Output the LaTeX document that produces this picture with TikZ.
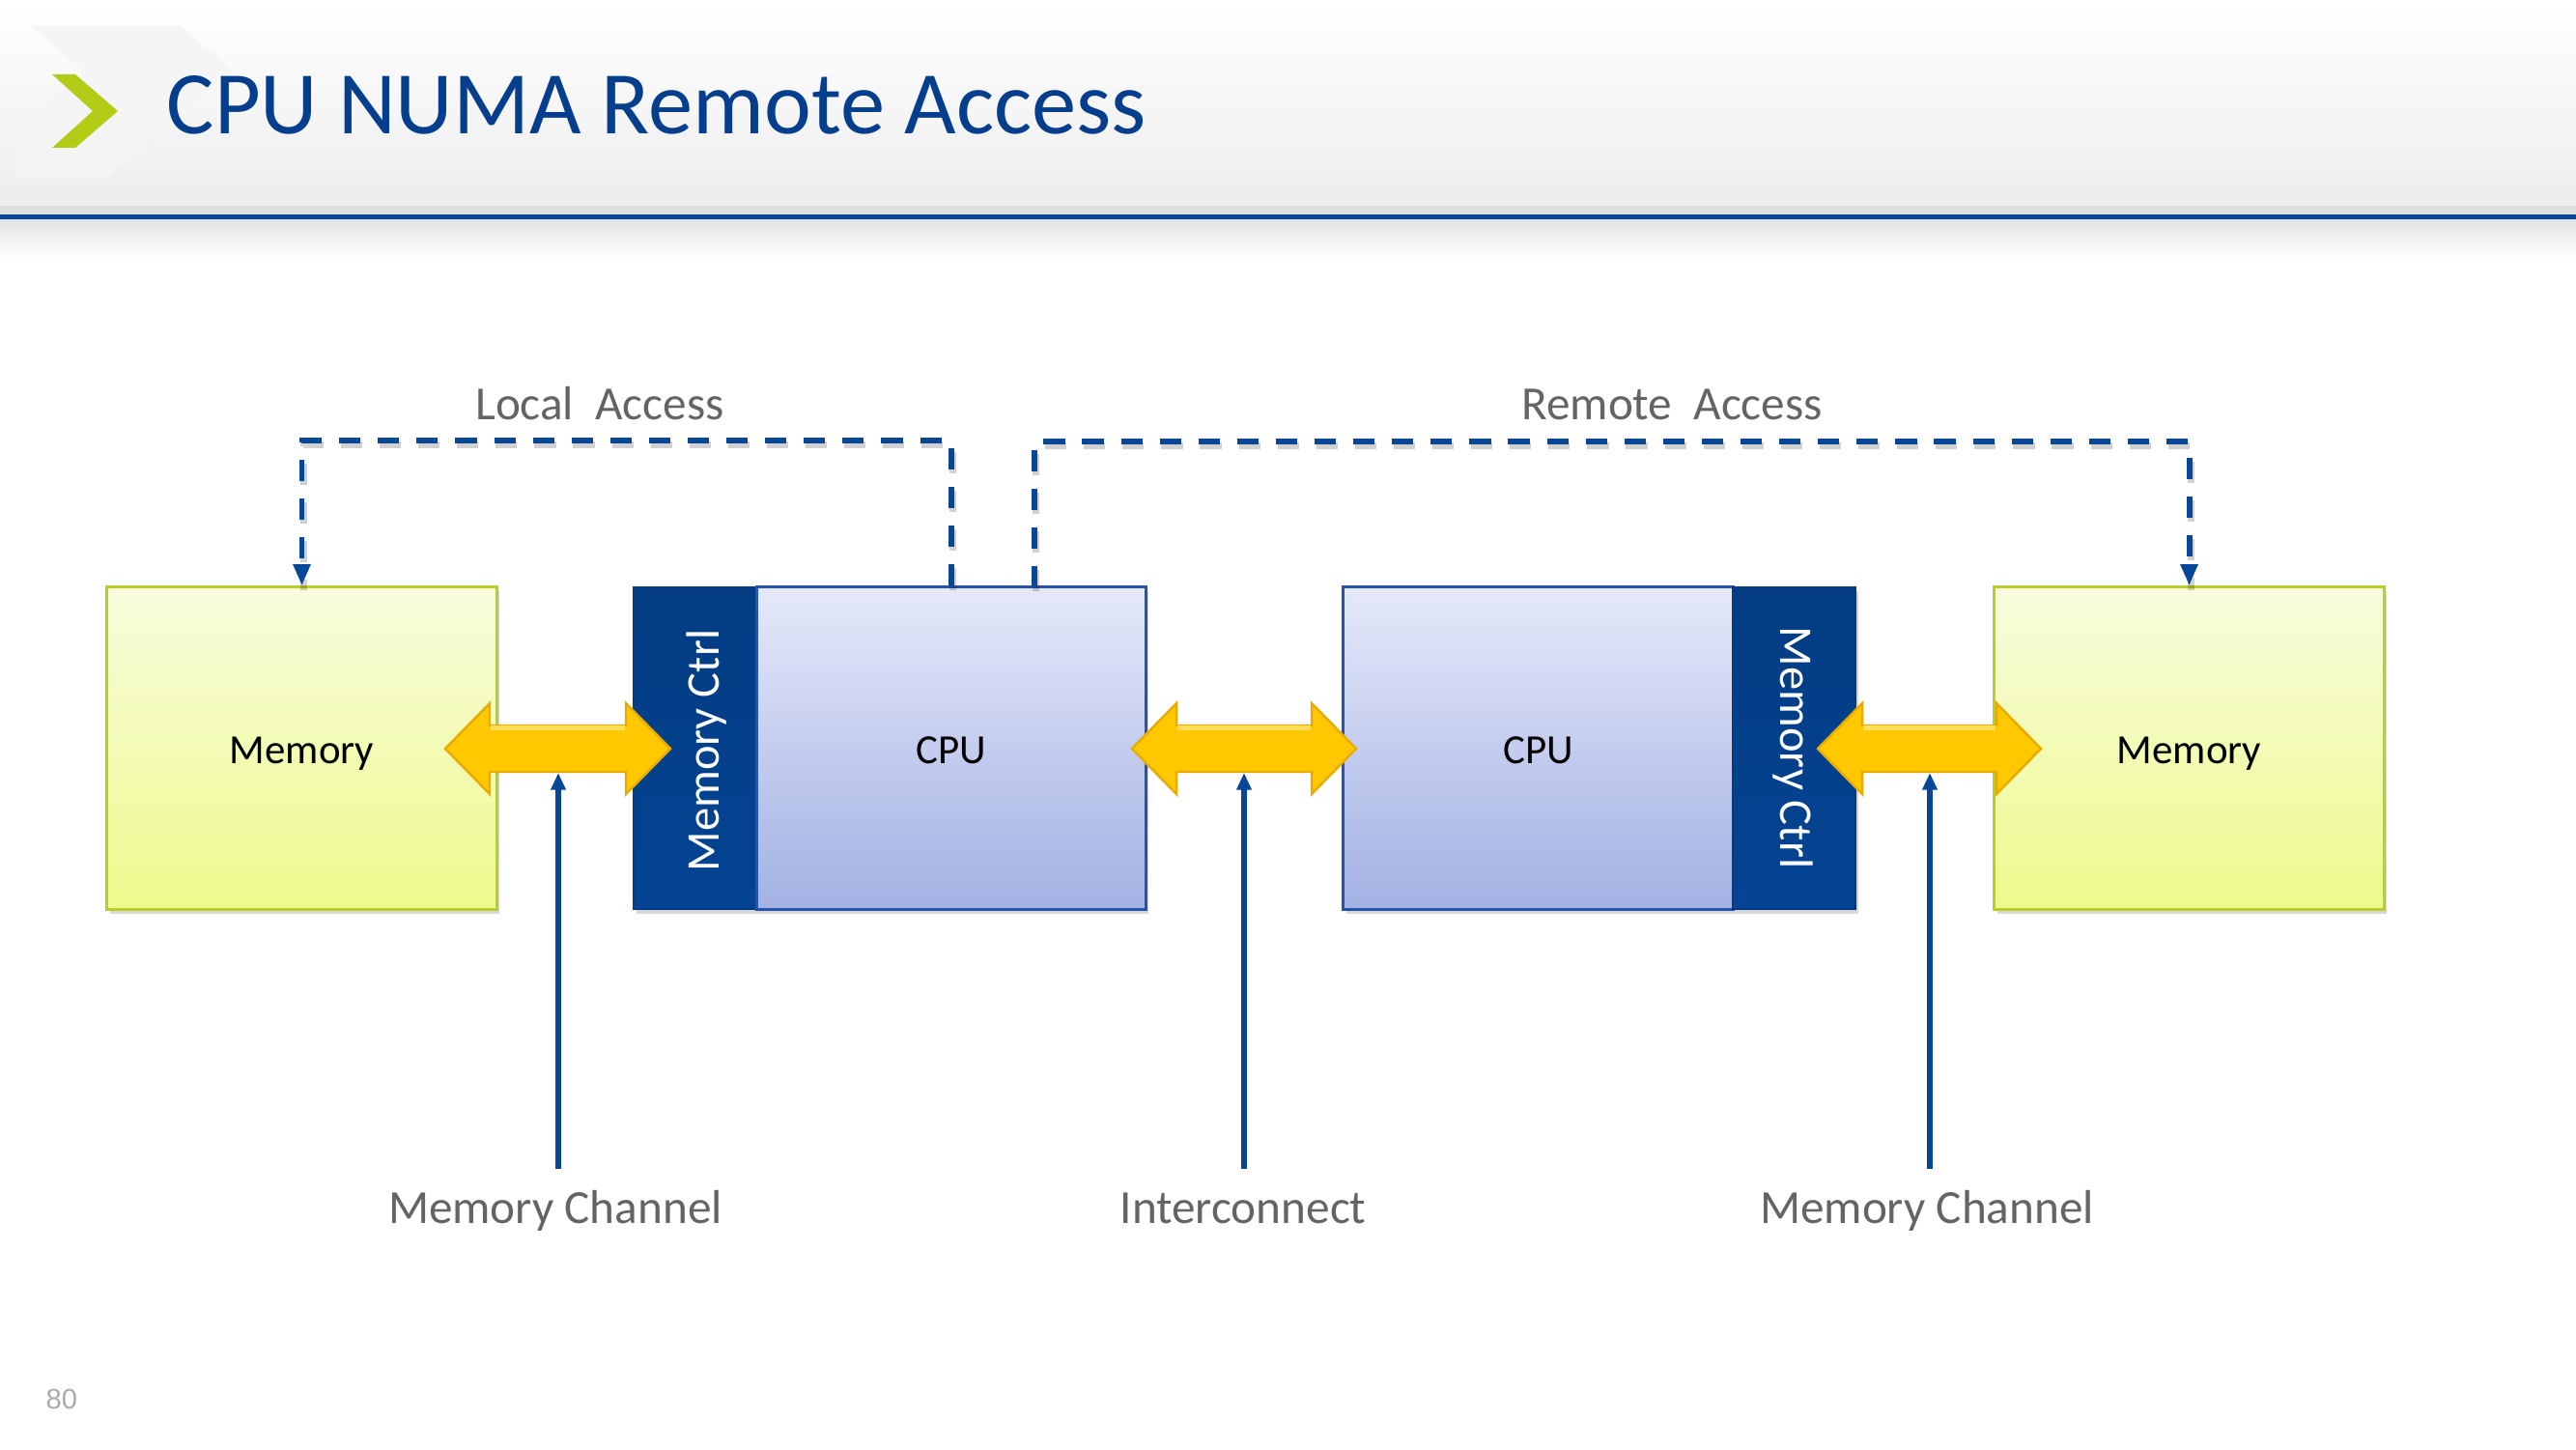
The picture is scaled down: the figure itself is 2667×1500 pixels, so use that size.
\documentclass[tikz,border=0pt]{standalone}
\usepackage{fontspec}
\setmainfont{Carlito}
\newfontfamily\numfont{Liberation Sans}
\usetikzlibrary{arrows.meta,shadows,calc}

\definecolor{titleblue}{RGB}{6,62,142}
\definecolor{lineblue}{RGB}{8,70,150}
\definecolor{chevgreen}{RGB}{180,204,22}
\definecolor{memtop}{RGB}{248,252,222}
\definecolor{membot}{RGB}{238,250,140}
\definecolor{memedge}{RGB}{186,206,40}
\definecolor{cputop}{RGB}{229,233,249}
\definecolor{cpubot}{RGB}{163,177,228}
\definecolor{cpuedge}{RGB}{38,84,170}
\definecolor{mcfill}{RGB}{4,68,148}
\definecolor{mcdark}{RGB}{3,60,130}
\definecolor{yfill}{RGB}{255,200,0}
\definecolor{yedge}{RGB}{232,172,0}
\definecolor{ylight}{RGB}{255,222,90}
\definecolor{labgray}{RGB}{100,100,100}

\newcommand\dblyarrow[2]{%
  \filldraw[yarrow] (#1,775) -- (#1+46,728) -- (#1+46,751) -- (#2-46,751) -- (#2-46,728) -- (#2,775)
     -- (#2-46,822) -- (#2-46,799) -- (#1+46,799) -- (#1+46,822) -- cycle;
  \draw[ylight, line width=1.2pt] (#1+47,753.5) -- (#2-47,753.5);
}

\begin{document}
\begin{tikzpicture}[x=0.01cm,y=-0.01cm,
  boxshadow/.style={drop shadow={shadow xshift=0.9pt, shadow yshift=-1.3pt, opacity=0.28, fill=black!55}},
  membox/.style={rectangle, inner sep=0pt, minimum width=4.03cm, minimum height=3.33cm,
     top color=memtop, bottom color=membot, draw=memedge, line width=0.9pt, boxshadow,
     font=\fontsize{12.2pt}{14pt}\selectfont, text height=9.3pt, text depth=0pt},
  cpubox/.style={rectangle, inner sep=0pt, minimum height=3.33cm,
     top color=cputop, bottom color=cpubot, draw=cpuedge, line width=0.9pt, boxshadow,
     font=\fontsize{12.2pt}{14pt}\selectfont, text height=9.3pt, text depth=0pt},
  mcbox/.style={rectangle, inner sep=0pt, minimum height=3.33cm,
     top color=mcdark, bottom color=mcfill, draw=mcdark, line width=0.6pt, boxshadow},
  mctext/.style={inner sep=0pt, text=white, font=\fontsize{13.8pt}{16pt}\selectfont},
  yarrow/.style={fill=yfill, draw=yedge, line width=0.7pt, line join=miter},
  label/.style={inner sep=0pt, anchor=base, text=labgray, font=\fontsize{14pt}{16pt}\selectfont},
  chanline/.style={draw=lineblue, line width=1.5pt, -{Triangle[length=5pt,width=4.2pt]}},
  accline/.style={draw=lineblue, line width=1.7pt, dash pattern=on 6.3pt off 5.1pt,
     -{Triangle[length=6.3pt,width=4.8pt]}},
  accshadow/.style={draw=black, opacity=0.18, line width=1.9pt, dash pattern=on 6.3pt off 5.1pt,
     transform canvas={xshift=0.5pt,yshift=-1.2pt}}
]
\useasboundingbox (0,0) rectangle (2667,1500);
\fill[white] (0,0) rectangle (2667,1500);

% header band
\shade[top color=white, bottom color=black!7] (0,0) rectangle (2667,213);
\fill[black!13] (0,213) rectangle (2667,222);
\fill[lineblue] (0,222) rectangle (2667,227);
\shade[top color=black!11, bottom color=white] (0,227) rectangle (2667,268);

% faint large chevron behind
\fill[black!4, opacity=0.9] (33,27) -- (187,27) -- (240,73) -- (110,185) -- (17,185) -- (17,133) -- (87,75) -- cycle;
% green chevron
\fill[chevgreen] (54,77) -- (78,77) -- (122,115) -- (78,153) -- (54,153) -- (96,115) -- cycle;

% title
\node[anchor=base west, inner sep=0pt, text=titleblue, font=\fontsize{26.3pt}{30pt}\selectfont]
  (title) at (172,139) {CPU NUMA Remote Access};

% boxes
\node[membox] (mem1) at (312.5,774.5) {Memory};
\node[mcbox, minimum width=1.28cm] (mc1) at (720,774.5) {};
\node[cpubox, minimum width=4.02cm] (cpu1) at (985,774.5) {CPU};
\node[cpubox, minimum width=4.03cm] (cpu2) at (1592.5,774.5) {CPU};
\node[mcbox, minimum width=1.27cm] (mc2) at (1857.5,774.5) {};
\node[membox] (mem2) at (2266.5,774.5) {Memory};

\node[mctext, rotate=90] (mc1t) at (732,777) {Memory Ctrl};
\node[mctext, rotate=-90] (mc2t) at (1856,774) {Memory Ctrl};

% yellow double arrows
\dblyarrow{461}{694}
\dblyarrow{1172}{1404}
\dblyarrow{1882}{2113}

% access paths
\coordinate (rs) at (1071,608);
\draw[accshadow] (cpu1.north) -- ++(0,-150) -| (mem1.north);
\draw[accshadow] (rs) -- ++(0,-151) -| (mem2.north);
\draw[accline] (cpu1.north) -- ++(0,-150) -| (mem1.north);
\draw[accline] (rs) -- ++(0,-151) -| (mem2.north);

\node[label] (la) at (621,434) {Local\ \ Access};
\node[label] (ra) at (1731,434) {Remote\ \ Access};

% channel labels and pointers
\node[label] (lc1) at (575,1266) {Memory Channel};
\node[label] (lic) at (1287,1266) {Interconnect};
\node[label] (lc2) at (1995,1266) {Memory Channel};

\coordinate (c1b) at (578,1210);  \coordinate (c1t) at (578,800);
\coordinate (icb) at (1288,1210); \coordinate (ict) at (1288,800);
\coordinate (c2b) at (1998,1210); \coordinate (c2t) at (1998,800);
\draw[chanline] (c1b) -- (c1t);
\draw[chanline] (icb) -- (ict);
\draw[chanline] (c2b) -- (c2t);

% page number
\node[anchor=base west, inner sep=0pt, text=black!33, font=\numfont\fontsize{8.3pt}{10pt}\selectfont]
  (pg) at (47,1458) {80};
\end{tikzpicture}
\end{document}
